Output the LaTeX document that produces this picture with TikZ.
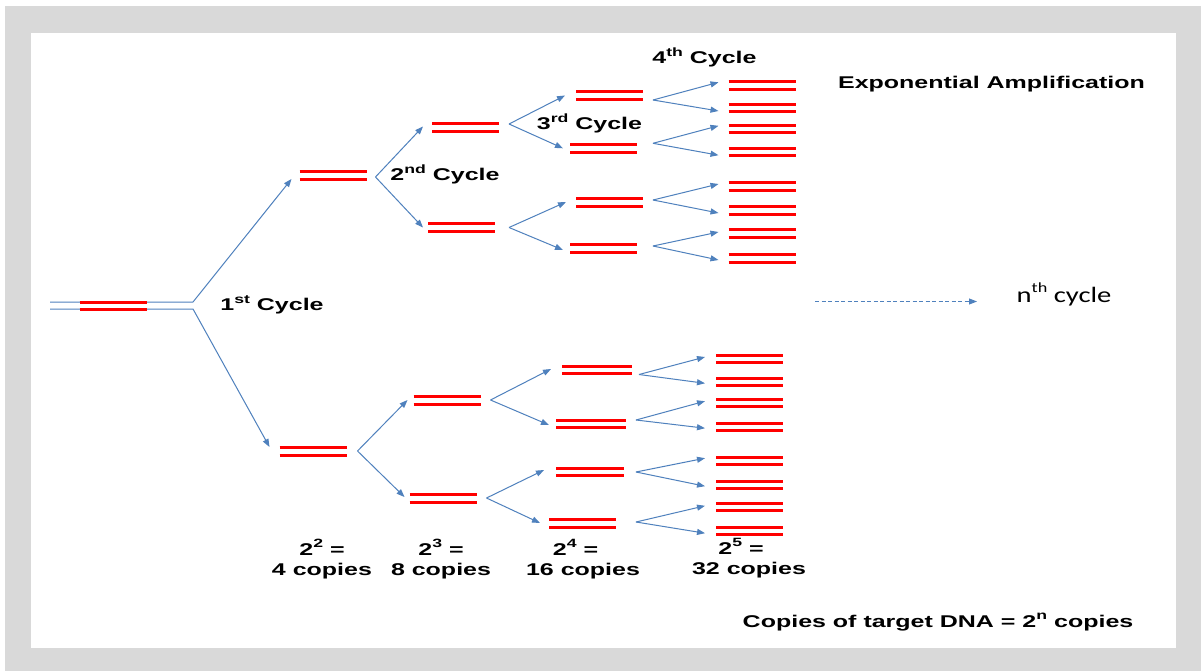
\documentclass[tikz,border=0pt]{standalone}
\usepackage{fontspec}
\newfontfamily\lblfont{Liberation Sans}[FakeStretch=1.47]
\newfontfamily\nthfont{Carlito}[FakeStretch=1.3]
\usetikzlibrary{arrows.meta}
\definecolor{pcrblue}{RGB}{79,129,189}
\definecolor{framegray}{RGB}{217,217,217}
\newcommand{\supx}[1]{\raisebox{0.42em}{\fontsize{12}{12}\selectfont #1}}
\newcommand{\supn}[1]{\raisebox{0.45em}{\fontsize{14}{14}\selectfont #1}}
\tikzset{
  redline/.style={draw=red, line width=3},
  dna/.style={inner sep=0, outer sep=0, minimum width=67, minimum height=#1,
    append after command={(\tikzlastnode.north west) edge[redline] (\tikzlastnode.north east)
                          (\tikzlastnode.south west) edge[redline] (\tikzlastnode.south east)}},
  dna/.default=7.5,
  conn/.style={draw=pcrblue, line width=1},
  arr/.style={conn, -{Triangle[length=8,width=6]}},
  lbl/.style={font=\lblfont\bfseries\fontsize{17}{19}\selectfont, anchor=base, inner sep=0},
  nthlbl/.style={font=\nthfont\fontsize{22}{24}\selectfont, anchor=base, inner sep=0},
}
\begin{document}
\begin{tikzpicture}[x=1pt,y=-1pt]
\useasboundingbox (0,0) rectangle (1201,671);
\fill[white] (0,0) rectangle (1201,671);
\fill[framegray] (5,6) rectangle (1201,671);
\fill[white] (31,33) rectangle (1176,648);

% start strand
\coordinate (inA) at (50,302);
\coordinate (forkA) at (193,302);
\coordinate (inB) at (50,309);
\coordinate (forkB) at (193,309);

% nodes
\node[dna=8] (A1) at (333,176) {};
\node[dna=8] (B1) at (313,451) {};
\node[dna=8.5] (A2) at (465.5,127.5) {};
\node[dna=8.5] (A3) at (461.5,227.5) {};
\node[dna] (C1) at (609.5,95.5) {};
\node[dna] (C2) at (603.5,148.3) {};
\node[dna] (C3) at (609.5,202.5) {};
\node[dna] (C4) at (603.5,248.5) {};
\node[dna] (D1) at (762,85.3) {};
\node[dna] (D2) at (762,108) {};
\node[dna] (D3) at (762,128.8) {};
\node[dna] (D4) at (762,152.2) {};
\node[dna] (D5) at (762,186.5) {};
\node[dna] (D6) at (762,210.5) {};
\node[dna] (D7) at (762,233.5) {};
\node[dna] (D8) at (762,258.5) {};
\node[dna=8] (B2) at (447,400) {};
\node[dna=8] (B3) at (443,498) {};
\node[dna, minimum width=70] (E1) at (597,370) {};
\node[dna, minimum width=70] (E2) at (591,424) {};
\node[dna, minimum width=68] (E3) at (590,472) {};
\node[dna] (E4) at (582.5,523.5) {};
\node[dna=6.7] (F1) at (749.5,359) {};
\node[dna=6.7] (F2) at (749.5,382.3) {};
\node[dna=6.7] (F3) at (749.5,402.7) {};
\node[dna=6.7] (F4) at (749.5,426.7) {};
\node[dna=6.7] (F5) at (749.5,460.7) {};
\node[dna=6.7] (F6) at (749.5,484.7) {};
\node[dna=6.7] (F7) at (749.5,507.3) {};
\node[dna=6.7] (F8) at (749.5,530.7) {};

% first cycle
\draw[arr] (inA) -- (forkA) -- ([xshift=-8,yshift=-3]A1.west);
\draw[arr] (inB) -- (forkB) -- ([xshift=-10,yshift=4]B1.west);
\node[dna=7] (S) at (113,305.5) {};

% second cycle
\draw[arr] ([xshift=9,yshift=-1]A1.east) -- ([xshift=-9,yshift=1]A2.west);
\draw[arr] ([xshift=9,yshift=-1]A1.east) -- ([xshift=-5]A3.west);
\draw[arr] ([xshift=11]B1.east) -- ([xshift=-6]B2.west);
\draw[arr] ([xshift=11]B1.east) -- ([xshift=-5,yshift=1]B3.west);

% third cycle
\draw[arr] ([xshift=10,yshift=3.5]A2.east) -- ([xshift=-11]C1.west);
\draw[arr] ([xshift=10,yshift=3.5]A2.east) -- ([xshift=-7]C2.west);
\draw[arr] ([xshift=14]A3.east) -- ([xshift=-10,yshift=0.5]C3.west);
\draw[arr] ([xshift=14]A3.east) -- ([xshift=-7,yshift=-1.5]C4.west);
\draw[arr] ([xshift=10]B2.east) -- ([xshift=-11,yshift=1]E1.west);
\draw[arr] ([xshift=10]B2.east) -- ([xshift=-7,yshift=-1]E2.west);
\draw[arr] ([xshift=10]B3.east) -- ([xshift=-12,yshift=2]E3.west);
\draw[arr] ([xshift=10]B3.east) -- ([xshift=-9,yshift=0.5]E4.west);

% fourth cycle
\draw[arr] ([xshift=10,yshift=-4.5]C1.east) -- ([xshift=-10,yshift=3]D1.west);
\draw[arr] ([xshift=10,yshift=-4.5]C1.east) -- ([xshift=-10,yshift=-3]D2.west);
\draw[arr] ([xshift=16,yshift=5]C2.east) -- ([xshift=-10,yshift=3]D3.west);
\draw[arr] ([xshift=16,yshift=5]C2.east) -- ([xshift=-10,yshift=-3]D4.west);
\draw[arr] ([xshift=10,yshift=2.5]C3.east) -- ([xshift=-10,yshift=2.5]D5.west);
\draw[arr] ([xshift=10,yshift=2.5]C3.east) -- ([xshift=-10,yshift=-2.5]D6.west);
\draw[arr] ([xshift=16,yshift=2.5]C4.east) -- ([xshift=-10,yshift=1.5]D7.west);
\draw[arr] ([xshift=16,yshift=2.5]C4.east) -- ([xshift=-10,yshift=-1.5]D8.west);
\draw[arr] ([xshift=7,yshift=-4.5]E1.east) -- ([xshift=-11,yshift=2]F1.west);
\draw[arr] ([xshift=7,yshift=-4.5]E1.east) -- ([xshift=-11,yshift=-1]F2.west);
\draw[arr] ([xshift=10,yshift=4]E2.east) -- ([xshift=-11,yshift=1.5]F3.west);
\draw[arr] ([xshift=10,yshift=4]E2.east) -- ([xshift=-11,yshift=-1.5]F4.west);
\draw[arr] ([xshift=12]E3.east) -- ([xshift=-11,yshift=2.5]F5.west);
\draw[arr] ([xshift=12]E3.east) -- ([xshift=-11,yshift=-1.5]F6.west);
\draw[arr] ([xshift=20,yshift=1.5]E4.east) -- ([xshift=-11,yshift=1.5]F7.west);
\draw[arr] ([xshift=20,yshift=1.5]E4.east) -- ([xshift=-11,yshift=-2.5]F8.west);

% labels
\node[lbl] (t1) at (272,310.5) {1\supx{st} Cycle};
\node[lbl] (t2) at (445,181) {2\supx{nd} Cycle};
\node[lbl] (t3) at (589.5,130) {3\supx{rd} Cycle};
\node[lbl] (t4) at (704.5,64) {4\supx{th} Cycle};
\node[lbl] (exp) at (991.5,89) {Exponential Amplification};
\node[nthlbl] (nth) at (1064,302.5) {n\supn{th} cycle};
\coordinate (dashS) at (815,301.5);
\coordinate (dashE) at (977,301.5);
\draw[arr, line width=0.9, dash pattern=on 4 off 2.5] (dashS) -- (dashE);
\node[lbl] (cp) at (938,627) {Copies of target DNA = 2\supx{n} copies};

\node[lbl] (p2) at (322,555) {2\supx{2} =};
\node[lbl] (c2) at (322,575) {4 copies};
\node[lbl] (p3) at (441,555) {2\supx{3} =};
\node[lbl] (c3) at (441,575) {8 copies};
\node[lbl] (p4) at (575.5,555) {2\supx{4} =};
\node[lbl] (c4) at (583,575) {16 copies};
\node[lbl] (p5) at (741,554) {2\supx{5} =};
\node[lbl] (c5) at (749,574) {32 copies};
\end{tikzpicture}
\end{document}
